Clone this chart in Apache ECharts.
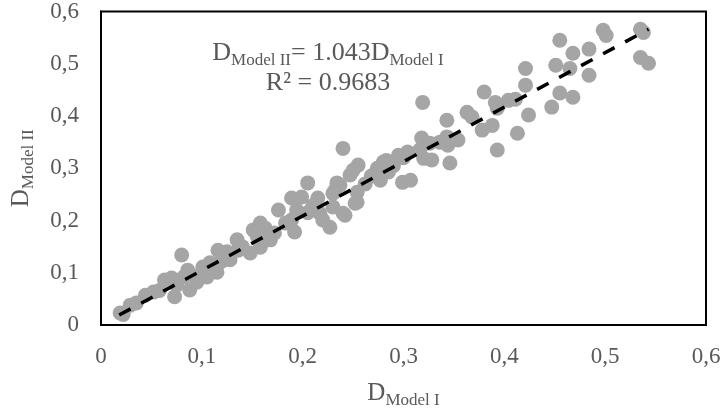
<!DOCTYPE html>
<html>
<head>
<meta charset="utf-8">
<script src="https://cdn.jsdelivr.net/npm/echarts@6/dist/echarts.min.js"></script>
<style>
html,body{margin:0;padding:0;background:#fff;}
#chart{width:725px;height:414px;}
</style>
</head>
<body>
<div id="chart"></div>
<script>
var xTicks = ['0', '0,1', '0,2', '0,3', '0,4', '0,5', '0,6'];
var yTicks = ['0', '0,1', '0,2', '0,3', '0,4', '0,5', '0,6'];
var modelI = [0.498,0.501,0.535,0.538,0.535,0.543,0.455,0.468,0.484,0.465,0.451,0.484,0.455,0.468,0.421,0.421,0.380,0.391,0.404,0.411,0.393,0.363,0.368,0.424,0.447,0.343,0.388,0.378,0.413,0.354,0.343,0.344,0.393,0.346,0.319,0.240,0.318,0.326,0.304,0.295,0.316,0.320,0.328,0.255,0.280,0.274,0.285,0.247,0.277,0.299,0.307,0.234,0.254,0.230,0.254,0.240,0.230,0.205,0.189,0.199,0.215,0.176,0.194,0.189,0.192,0.217,0.220,0.227,0.242,0.232,0.237,0.250,0.158,0.151,0.163,0.168,0.158,0.148,0.135,0.136,0.125,0.118,0.080,0.019,0.029,0.044,0.052,0.063,0.070,0.073,0.075,0.088,0.086,0.095,0.101,0.108,0.115,0.116,0.121,0.252,0.022,0.035,0.058,0.082,0.098,0.105,0.110,0.128,0.140,0.155,0.172,0.183,0.205,0.210,0.262,0.268,0.290,0.300,0.336,0.283];
var modelII = [0.564,0.554,0.566,0.560,0.512,0.501,0.545,0.520,0.528,0.491,0.497,0.478,0.444,0.436,0.491,0.459,0.446,0.426,0.430,0.432,0.415,0.407,0.398,0.402,0.417,0.392,0.382,0.373,0.367,0.354,0.360,0.344,0.335,0.310,0.426,0.338,0.358,0.348,0.331,0.325,0.335,0.319,0.316,0.306,0.312,0.300,0.293,0.287,0.277,0.273,0.277,0.272,0.254,0.252,0.235,0.214,0.226,0.272,0.243,0.245,0.243,0.220,0.220,0.201,0.178,0.214,0.201,0.187,0.210,0.258,0.268,0.296,0.195,0.182,0.185,0.163,0.149,0.138,0.163,0.143,0.140,0.120,0.134,0.023,0.038,0.057,0.063,0.086,0.090,0.054,0.076,0.067,0.105,0.082,0.111,0.119,0.101,0.143,0.124,0.233,0.020,0.042,0.066,0.092,0.096,0.092,0.108,0.125,0.150,0.170,0.176,0.195,0.215,0.228,0.270,0.285,0.305,0.320,0.350,0.315];
var trendX = [0.018, 0.543];
var trendY = [0.019, 0.566];

var FONT = "'Liberation Serif','Times New Roman',serif";
var GREY = '#595959';
var richStyle = {
  m: {fontFamily: FONT, fontSize: 25, color: GREY, padding: [0, 0, 3, 0]},
  s: {fontFamily: FONT, fontSize: 17, color: GREY, verticalAlign: 'bottom'}
};
var richGraphic = {
  m: {fontFamily: FONT, fontSize: 26, fill: GREY, padding: [0, 0, 3, 0]},
  s: {fontFamily: FONT, fontSize: 17, fill: GREY, verticalAlign: 'bottom'}
};

var points = modelI.map(function (v, i) { return [v, modelII[i]]; });
var trend = trendX.map(function (v, i) { return [v, trendY[i]]; });

var chart = echarts.init(document.getElementById('chart'), null, {renderer: 'canvas'});
chart.setOption({
  animation: false,
  backgroundColor: '#fff',
  grid: {left: 101, top: 11, width: 605, height: 314, show: true, borderColor: '#000', borderWidth: 2, backgroundColor: 'transparent'},
  xAxis: {
    type: 'value', min: 0, max: 0.6, interval: 0.1,
    axisLine: {show: true, lineStyle: {color: '#000', width: 2}},
    axisTick: {show: false},
    splitLine: {show: false},
    axisLabel: {margin: 20, fontFamily: FONT, fontSize: 23, color: GREY,
      formatter: function (v) { return xTicks[Math.round(v * 10)]; }},
    name: '{m|D}{s|Model I}',
    nameLocation: 'middle', nameGap: 56,
    nameTextStyle: {rich: richStyle}
  },
  yAxis: {
    type: 'value', min: 0, max: 0.6, interval: 0.1,
    axisLine: {show: true, lineStyle: {color: '#000', width: 2}},
    axisTick: {show: false},
    splitLine: {show: false},
    axisLabel: {margin: 22, fontFamily: FONT, fontSize: 23, color: GREY,
      formatter: function (v) { return yTicks[Math.round(v * 10)]; }},
    name: '{m|D}{s|Model II}',
    nameLocation: 'middle', nameGap: 64, nameRotate: 90,
    nameTextStyle: {rich: richStyle}
  },
  graphic: [
    {type: 'text', x: 328, y: 55, z: 10,
     style: {text: '{m|D}{s|Model II}{m|= 1.043D}{s|Model I}', align: 'center', verticalAlign: 'middle', rich: richGraphic}},
    {type: 'text', x: 328, y: 83, z: 10,
     style: {text: 'R² = 0.9683', align: 'center', verticalAlign: 'middle', fontFamily: FONT, fontSize: 26, fill: GREY}}
  ],
  series: [
    {type: 'scatter', data: points, symbol: 'circle', symbolSize: 15,
     itemStyle: {color: '#a5a5a5', opacity: 1}, z: 2},
    {type: 'line', data: trend, symbol: 'none', z: 3,
     lineStyle: {color: '#000', width: 3.5, type: [13, 12], cap: 'butt'}}
  ]
});
</script>
</body>
</html>
